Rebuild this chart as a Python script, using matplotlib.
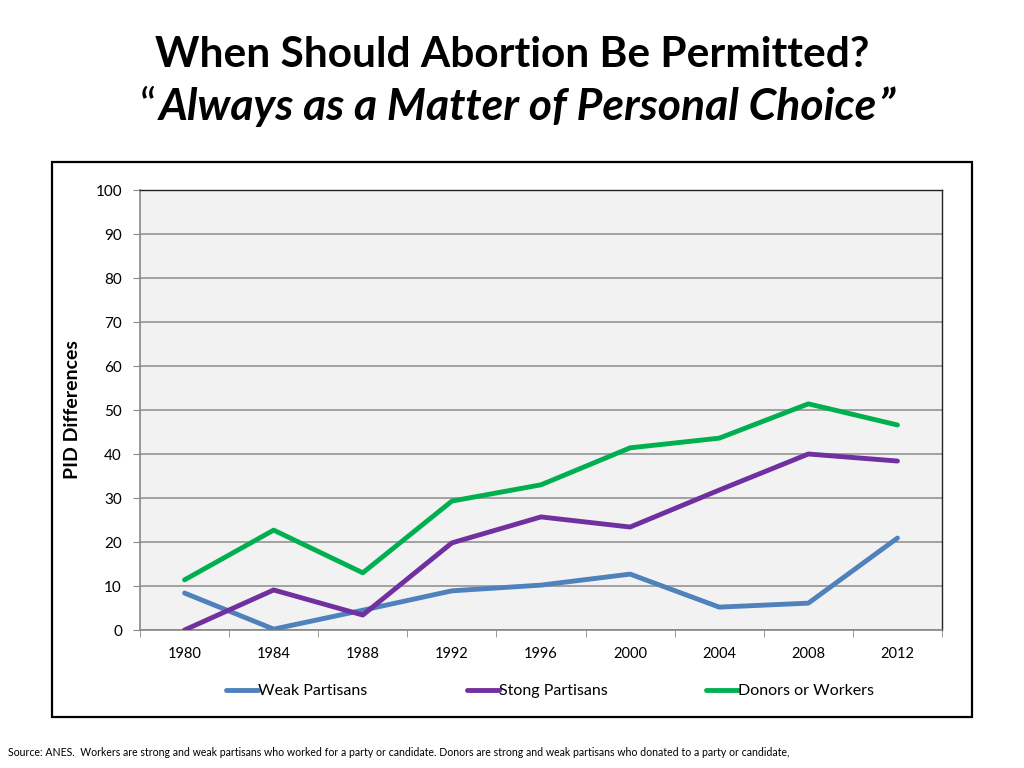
import matplotlib
matplotlib.use("Agg")
import matplotlib.pyplot as plt
from matplotlib.patches import Rectangle
from matplotlib.lines import Line2D

plt.rcParams['font.family'] = ['Lato', 'DejaVu Sans']

years = ['1980', '1984', '1988', '1992', '1996', '2000', '2004', '2008', '2012']
weak = [8.4, 0.2, 4.5, 8.9, 10.2, 12.7, 5.2, 6.1, 20.9]
strong = [0.0, 9.1, 3.4, 19.8, 25.7, 23.4, 31.8, 40.0, 38.4]
donors = [11.4, 22.7, 13.0, 29.3, 33.0, 41.4, 43.6, 51.4, 46.6]

series_names = ['Weak Partisans', 'Stong Partisans', 'Donors or Workers']
colors = ['#4f81bd', '#7030a0', '#00b050']

fig = plt.figure(figsize=(10.24, 7.68), dpi=100)

# outer chart frame
fig.patches.append(Rectangle((52 / 1024, 1 - 717 / 768), 920 / 1024, 555 / 768,
                             transform=fig.transFigure, fill=False,
                             edgecolor='black', linewidth=1.6))

ax = fig.add_axes([140 / 1024, 1 - 630 / 768, 802 / 1024, 440 / 768])
ax.set_facecolor('#f2f2f2')

x = list(range(len(years)))
for vals, c in zip([weak, strong, donors], colors):
    ax.plot(x, vals, color=c, linewidth=3.5, solid_capstyle='round', zorder=3)

ax.set_xlim(-0.5, len(years) - 0.5)
ax.set_ylim(0, 100)
ax.set_yticks(range(0, 101, 10))
ax.set_xticks(x)
ax.set_xticklabels(years)
ax.set_xticks([i - 0.5 for i in range(len(years) + 1)], minor=True)
ax.tick_params(axis='x', which='major', length=0, pad=12, labelsize=10.5)
ax.tick_params(axis='x', which='minor', length=5, color='#888888', direction='out')
ax.tick_params(axis='y', length=5, color='#888888', labelsize=11, pad=8)
ax.grid(axis='y', color='#8c8c8c', linewidth=1.1, zorder=1)
ax.set_axisbelow(True)
for s in ['left', 'bottom']:
    ax.spines[s].set_color('#888888')
    ax.spines[s].set_linewidth(1.2)
for s in ['top', 'right']:
    ax.spines[s].set_color('#222222')
    ax.spines[s].set_linewidth(1.0)

ax.set_ylabel('PID Differences', fontsize=14, fontweight='bold', labelpad=10)

# legend
handles = [Line2D([0], [0], color=c, linewidth=3.5, solid_capstyle='round') for c in colors]
fig.legend(handles, series_names, loc='center left', bbox_to_anchor=(212 / 1024, 1 - 691 / 768),
           ncol=3, frameon=False, fontsize=11.5, handlelength=2.0, handletextpad=0.0,
           columnspacing=6.2)

# titles
fig.text(512 / 1024, 1 - 55 / 768, 'When Should Abortion Be Permitted?',
         ha='center', va='center', fontsize=30.5, fontweight='bold')
mid = fig.text(518 / 1024, 1 - 107 / 768, 'Always as a Matter of Personal Choice',
               ha='center', va='center', fontsize=32, fontweight='bold', style='italic')
fig.canvas.draw()
bb = mid.get_window_extent().transformed(fig.transFigure.inverted())
fig.text(bb.x0 - 0.003, 1 - 107 / 768, '\u201c', ha='right', va='center', fontsize=32)
fig.text(bb.x1 + 0.001, 1 - 107 / 768, '\u201d', ha='left', va='center', fontsize=32,
         fontweight='bold', style='italic')

fig.text(8 / 1024, 1 - 752 / 768,
         'Source: ANES.  Workers are strong and weak partisans who worked for a party or candidate. '
         'Donors are strong and weak partisans who donated to a party or candidate,',
         ha='left', va='center', fontsize=7.6)

fig.savefig('out.png', dpi=100)
